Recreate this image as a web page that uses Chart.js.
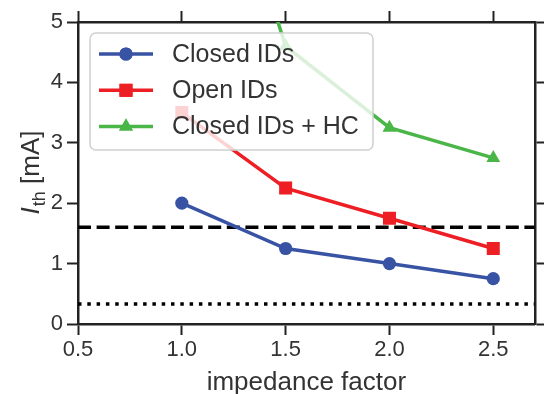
<!DOCTYPE html>
<html>
<head>
<meta charset="utf-8">
<script src="https://cdn.jsdelivr.net/npm/chart.js@4.4.1/dist/chart.umd.min.js"></script>
<style>
  html, body { margin: 0; padding: 0; background: #fff; }
  #wrap { width: 544px; height: 394px; }
</style>
</head>
<body>
<div id="wrap"><canvas id="c" width="544" height="394"></canvas></div>
<script>
// ---- data ----
const xValues   = [1.0, 1.5, 2.0, 2.5];
const closedIDs = [2.0, 1.25, 1.0, 0.75];
const openIDs   = [3.5, 2.25, 1.75, 1.25];
const closedHC  = [10.0, 4.6, 3.25, 2.75];
const refLevels = [1.6, 0.33];          // dashed, dotted
const xRange    = [0.5, 2.7];
const yRange    = [0, 5];
const xTicks    = [0.5, 1.0, 1.5, 2.0, 2.5];
const yTicks    = [0, 1, 2, 3, 4, 5];
const seriesLabels = ['Closed IDs', 'Open IDs', 'Closed IDs + HC'];

const FONT = '"Liberation Sans", Arial, Helvetica, sans-serif';
const TXT = '#333333';
const AX = '#222222';
const COLORS = ['#3953a4', '#ed1f24', '#4bb648'];

const pts = arr => arr.map((v, i) => ({x: xValues[i], y: v}));

function mkSeries(label, data, color, style, radius) {
  return {
    label, data: pts(data), borderColor: color, backgroundColor: color,
    borderWidth: 3.5, pointStyle: style, pointRadius: radius, pointHoverRadius: radius,
    pointBorderWidth: 0, tension: 0, clip: 0, fill: false
  };
}
function mkRef(level, dash) {
  return {
    label: '_ref', data: [{x: xRange[0], y: level}, {x: xRange[1], y: level}],
    borderColor: '#000', borderWidth: 3.5, borderDash: dash, borderCapStyle: 'butt',
    pointRadius: 0, pointHoverRadius: 0, clip: 0, fill: false, isRef: true
  };
}

const datasets = [
  mkSeries(seriesLabels[0], closedIDs, COLORS[0], 'circle', 6.6),
  mkSeries(seriesLabels[1], openIDs, COLORS[1], 'rect', 9.2),
  mkSeries(seriesLabels[2], closedHC, COLORS[2], 'triangle', 8),
  mkRef(refLevels[0], [13, 5.6]),
  mkRef(refLevels[1], [3.5, 5.8])
];

const setTicks = vals => s => { s.ticks = vals.map(v => ({value: v})); };
const gridCfg = {display: true, drawOnChartArea: false, drawTicks: true, tickLength: 11, tickWidth: 2, tickColor: AX};
const borderCfg = {display: true, width: 2.5, color: AX};

const overlay = {
  id: 'overlay',
  afterDraw(chart) {
    const ctx = chart.ctx;
    const ca = chart.chartArea;
    // axis titles
    ctx.save();
    ctx.fillStyle = TXT;
    ctx.textBaseline = 'alphabetic';
    ctx.textAlign = 'center';
    ctx.font = '26px ' + FONT;
    ctx.fillText('impedance factor', (ca.left + ca.right) / 2, 390);
    // y title: I_th [mA]
    const cy = (ca.top + ca.bottom) / 2;
    ctx.translate(39, cy);
    ctx.rotate(-Math.PI / 2);
    ctx.textAlign = 'left';
    const fI = 'italic 26px ' + FONT, fS = '18px ' + FONT, fR = '26px ' + FONT;
    ctx.font = fI; const wI = ctx.measureText('I').width;
    ctx.font = fS; const wS = ctx.measureText('th').width;
    ctx.font = fR; const wR = ctx.measureText(' [mA]').width;
    let x0 = -(wI + wS + wR) / 2;
    ctx.font = fI; ctx.fillText('I', x0, 0); x0 += wI + 1;
    ctx.font = fS; ctx.fillText('th', x0, 6); x0 += wS;
    ctx.font = fR; ctx.fillText(' [mA]', x0, 0);
    ctx.restore();

    // legend
    const bx = 90, by = 33, bw = 283, bh = 117;
    ctx.save();
    ctx.beginPath();
    ctx.roundRect(bx, by, bw, bh, 6);
    ctx.fillStyle = 'rgba(255,255,255,0.8)';
    ctx.fill();
    ctx.lineWidth = 1.5;
    ctx.strokeStyle = '#d0d0d0';
    ctx.stroke();
    const items = chart.data.datasets.filter(d => !d.isRef);
    items.forEach((d, i) => {
      const yy = 54 + i * 36.3;
      ctx.strokeStyle = d.borderColor;
      ctx.lineWidth = d.borderWidth;
      ctx.setLineDash([]);
      ctx.beginPath();
      ctx.moveTo(99, yy); ctx.lineTo(153, yy); ctx.stroke();
      ctx.fillStyle = d.backgroundColor;
      Chart.helpers.drawPoint(ctx, {pointStyle: d.pointStyle, radius: d.pointRadius, borderWidth: 0, rotation: 0}, 126, yy);
      ctx.fill();
      ctx.fillStyle = TXT;
      ctx.font = '25px ' + FONT;
      ctx.textAlign = 'left';
      ctx.textBaseline = 'middle';
      ctx.fillText(d.label, 172, yy + 1);
    });
    ctx.restore();
  }
};

new Chart(document.getElementById('c'), {
  type: 'line',
  data: {datasets},
  options: {
    responsive: false,
    animation: false,
    events: [],
    layout: {padding: 0},
    plugins: {legend: {display: false}, tooltip: {enabled: false}},
    scales: {
      x: {
        type: 'linear', position: 'bottom', min: xRange[0], max: xRange[1],
        afterBuildTicks: setTicks(xTicks),
        afterFit: s => { s.height = 70; },
        ticks: {font: {family: FONT, size: 22}, color: TXT, padding: 2, maxRotation: 0,
                callback: v => Number(v).toFixed(1)},
        grid: gridCfg, border: borderCfg
      },
      x2: {
        type: 'linear', position: 'top', axis: 'x', min: xRange[0], max: xRange[1],
        afterBuildTicks: setTicks(xTicks),
        afterFit: s => { s.height = 22; },
        ticks: {display: false},
        grid: gridCfg, border: borderCfg
      },
      y: {
        type: 'linear', position: 'left', min: yRange[0], max: yRange[1],
        afterBuildTicks: setTicks(yTicks),
        afterFit: s => { s.width = 78; },
        ticks: {font: {family: FONT, size: 22}, color: TXT, padding: 4,
                callback: v => String(v)},
        grid: gridCfg, border: borderCfg
      },
      y2: {
        type: 'linear', position: 'right', axis: 'y', min: yRange[0], max: yRange[1],
        afterBuildTicks: setTicks(yTicks),
        afterFit: s => { s.width = 9; },
        ticks: {display: false},
        grid: gridCfg, border: borderCfg
      }
    }
  },
  plugins: [overlay]
});
</script>
</body>
</html>
